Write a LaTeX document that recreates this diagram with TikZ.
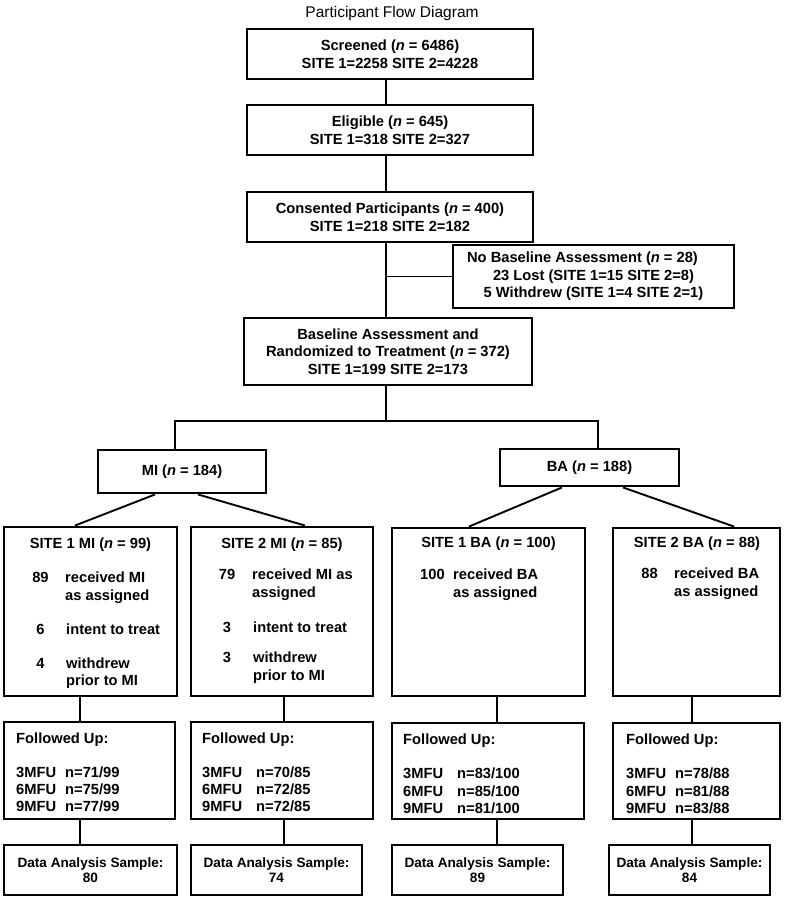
\documentclass[tikz,border=0pt]{standalone}
\usepackage{fontspec}
\setmainfont{Liberation Sans}
\begin{document}
\begin{tikzpicture}[x=1pt,y=-1pt,
  box/.style={draw, line width=2.9pt, inner sep=0pt, align=center, font=\bfseries\fontsize{14.7}{17.6}\selectfont},
  thinbox/.style={box, line width=1.9pt},
  dbox/.style={box, font=\bfseries\fontsize{13.6}{15}\selectfont},
  conn/.style={line width=1.9pt},
  txt/.style={inner sep=0pt, anchor=base west, font=\bfseries\fontsize{14.7}{17.6}\selectfont},
  ctxt/.style={txt, anchor=base},
]
\useasboundingbox (0,0) rectangle (786,900);

\node[inner sep=0pt, anchor=base, font=\fontsize{15.5}{18}\selectfont] (title) at (392,17) {Participant Flow Diagram};

% top chain
\node[box, minimum width=286pt, minimum height=50pt] (scr) at (390,54) {Screened (\textit{n} = 6486)\\SITE 1=2258 SITE 2=4228};
\node[box, minimum width=286pt, minimum height=50pt] (eli) at (390,130) {Eligible (\textit{n} = 645)\\SITE 1=318 SITE 2=327};
\node[box, minimum width=286pt, minimum height=50pt] (con) at (390,217) {Consented Participants (\textit{n} = 400)\\SITE 1=218 SITE 2=182};
\node[thinbox, minimum width=281pt, minimum height=63pt] (nob) at (593.5,276.5) {\hspace*{-22pt}No Baseline Assessment (\textit{n} = 28)\\23 Lost (SITE 1=15 SITE 2=8)\\5 Withdrew (SITE 1=4 SITE 2=1)};
\node[box, minimum width=288pt, minimum height=67pt] (bas) at (388,351.5) {Baseline Assessment and\\Randomized to Treatment (\textit{n} = 372)\\SITE 1=199 SITE 2=173};

% arms
\node[box, minimum width=168pt, minimum height=43pt] (mi) at (182,471.5) {MI (\textit{n} = 184)};
\node[box, minimum width=179pt, minimum height=37pt] (ba) at (589.5,467.5) {BA (\textit{n} = 188)};

% site boxes
\node[box, minimum width=173pt, minimum height=169pt] (s1mi) at (90.5,611.5) {};
\node[box, minimum width=182pt, minimum height=169pt] (s2mi) at (282,611.5) {};
\node[box, minimum width=193pt, minimum height=168pt] (s1ba) at (488.5,612) {};
\node[box, minimum width=167pt, minimum height=168pt] (s2ba) at (696.5,612) {};

% followed boxes
\node[box, minimum width=171pt, minimum height=97pt] (f1) at (89.5,770.5) {};
\node[box, minimum width=182pt, minimum height=97pt] (f2) at (282,770.5) {};
\node[box, minimum width=192pt, minimum height=96pt] (f3) at (488,771) {};
\node[box, minimum width=167pt, minimum height=96pt] (f4) at (696.5,771) {};

% data analysis boxes
\node[dbox, minimum width=173pt, minimum height=50pt] (d1) at (90.5,870) {Data Analysis Sample:\\80};
\node[dbox, minimum width=171pt, minimum height=50pt] (d2) at (276.5,870) {Data Analysis Sample:\\74};
\node[dbox, minimum width=171pt, minimum height=50pt] (d3) at (477.5,870) {Data Analysis Sample:\\89};
\node[dbox, minimum width=161pt, minimum height=50pt] (d4) at (689.5,870) {Data Analysis Sample:\\84};

% site box texts
\node[ctxt] at (90.5,548) {SITE 1 MI (\textit{n} = 99)};
\node[ctxt] at (40.5,582) {89}; \node[txt] at (65,582) {received MI}; \node[txt] at (65,600) {as assigned};
\node[ctxt] at (40.5,634) {6}; \node[txt] at (66,634) {intent to treat};
\node[ctxt] at (40.5,668) {4}; \node[txt] at (66,668) {withdrew}; \node[txt] at (66,685) {prior to MI};

\node[ctxt] at (282,548) {SITE 2 MI (\textit{n} = 85)};
\node[ctxt] at (227,579) {79}; \node[txt] at (252,579) {received MI as}; \node[txt] at (252,597) {assigned};
\node[ctxt] at (227,632) {3}; \node[txt] at (253,632) {intent to treat};
\node[ctxt] at (227,662) {3}; \node[txt] at (253,662) {withdrew}; \node[txt] at (253,680) {prior to MI};

\node[ctxt] at (488.5,547) {SITE 1 BA (\textit{n} = 100)};
\node[ctxt] at (432.5,579) {100}; \node[txt] at (453,579) {received BA}; \node[txt] at (453,597) {as assigned};

\node[ctxt] at (697,547) {SITE 2 BA (\textit{n} = 88)};
\node[ctxt] at (649.5,578) {88}; \node[txt] at (674,578) {received BA}; \node[txt] at (674,596) {as assigned};

% followed texts
\node[txt] at (16,743) {Followed Up:};
\node[txt] at (16,777) {3MFU}; \node[txt] at (65,777) {n=71/99};
\node[txt] at (16,794) {6MFU}; \node[txt] at (65,794) {n=75/99};
\node[txt] at (16,811) {9MFU}; \node[txt] at (65,811) {n=77/99};

\node[txt] at (202,743) {Followed Up:};
\node[txt] at (202,777) {3MFU}; \node[txt] at (256,777) {n=70/85};
\node[txt] at (202,794) {6MFU}; \node[txt] at (256,794) {n=72/85};
\node[txt] at (202,811) {9MFU}; \node[txt] at (256,811) {n=72/85};

\node[txt] at (403,744) {Followed Up:};
\node[txt] at (403,778) {3MFU}; \node[txt] at (457,778) {n=83/100};
\node[txt] at (403,796) {6MFU}; \node[txt] at (457,796) {n=85/100};
\node[txt] at (403,813) {9MFU}; \node[txt] at (457,813) {n=81/100};

\node[txt] at (626,744) {Followed Up:};
\node[txt] at (626,778) {3MFU}; \node[txt] at (675,778) {n=78/88};
\node[txt] at (626,796) {6MFU}; \node[txt] at (675,796) {n=81/88};
\node[txt] at (626,813) {9MFU}; \node[txt] at (675,813) {n=83/88};

% connectors
\coordinate (sp) at (386,0);
\coordinate (br) at (386,421);
\coordinate (bl) at (175,421);
\coordinate (brr) at (598,421);
\coordinate (c1) at (80,0);
\coordinate (c2) at (284,0);
\coordinate (c3) at (497,0);
\coordinate (c4) at (692,0);

\draw[conn] (scr.south -| sp) -- (eli.north -| sp);
\draw[conn] (eli.south -| sp) -- (con.north -| sp);
\draw[conn] (con.south -| sp) -- (bas.north -| sp);
\draw[conn] (sp |- nob.west) -- (nob.west);
\draw[conn] (bas.south -| sp) -- (br);
\draw[conn] (mi.north -| bl) -- (bl) -- (brr) -- (ba.north -| brr);

\draw[conn] ([xshift=-27pt]mi.south) -- ([xshift=-15.5pt]s1mi.north);
\draw[conn] ([xshift=16pt]mi.south) -- ([xshift=23pt]s2mi.north);
\draw[conn] ([xshift=-27.5pt]ba.south) -- ([xshift=-19.5pt]s1ba.north);
\draw[conn] ([xshift=33.5pt]ba.south) -- ([xshift=37.5pt]s2ba.north);

\draw[conn] (s1mi.south -| c1) -- (f1.north -| c1);
\draw[conn] (s2mi.south -| c2) -- (f2.north -| c2);
\draw[conn] (s1ba.south -| c3) -- (f3.north -| c3);
\draw[conn] (s2ba.south -| c4) -- (f4.north -| c4);

\draw[conn] (f1.south -| c1) -- (d1.north -| c1);
\draw[conn] (f2.south -| c2) -- (d2.north -| c2);
\draw[conn] (f3.south -| c3) -- (d3.north -| c3);
\draw[conn] (f4.south -| c4) -- (d4.north -| c4);
\end{tikzpicture}
\end{document}
